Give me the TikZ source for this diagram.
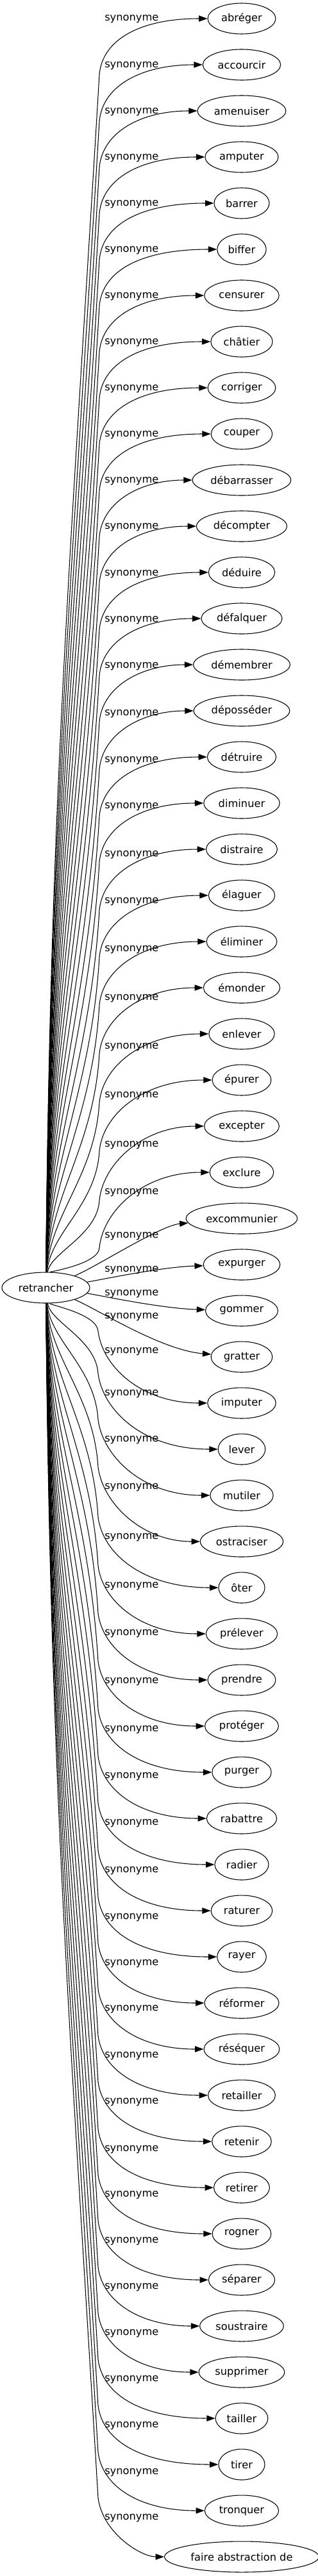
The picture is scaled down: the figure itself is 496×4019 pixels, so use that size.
\documentclass[tikz,border=0pt]{standalone}
\usepackage{fontspec}
\setmainfont{DejaVu Sans}
\usetikzlibrary{shapes.geometric,arrows.meta}

\begin{document}
\begin{tikzpicture}[
    x=0.75pt, y=-0.75pt,
    every node/.style={font=\fontsize{12.2}{14}\selectfont},
    term/.style={ellipse, draw, line width=0.8pt, inner xsep=4.2pt, minimum width=54pt, minimum height=36pt},
    rel/.style={anchor=base west, inner sep=0pt},
    arrow/.style={-{Triangle[length=10pt, width=7pt]}, line width=0.8pt}
]
\useasboundingbox (0,0) rectangle (496,4019);

% Root word
\node[term] (root) at (71.5,2009) {retrancher};

% Synonyms: name / text / shift of the edge label
\foreach \nm/\txt/\off [count=\i from 0] in {
    abreger/abréger/-1, accourcir/accourcir/0, amenuiser/amenuiser/0,
    amputer/amputer/0, barrer/barrer/0, biffer/biffer/0,
    censurer/censurer/0, chatier/châtier/0, corriger/corriger/0,
    couper/couper/0, debarrasser/débarrasser/0, decompter/décompter/0,
    deduire/déduire/1, defalquer/défalquer/1, demembrer/démembrer/1,
    deposseder/déposséder/3, detruire/détruire/4, diminuer/diminuer/4,
    distraire/distraire/7, elaguer/élaguer/8, eliminer/éliminer/11,
    emonder/émonder/15, enlever/enlever/19, epurer/épurer/23,
    excepter/excepter/28, exclure/exclure/30, excommunier/excommunier/26,
    expurger/expurger/7, gommer/gommer/-28, gratter/gratter/-64,
    imputer/imputer/-82, lever/lever/-88, mutiler/mutiler/-88,
    ostraciser/ostraciser/-86, oter/ôter/-80, prelever/prélever/-76,
    prendre/prendre/-74, proteger/protéger/-71, purger/purger/-68,
    rabattre/rabattre/-67, radier/radier/-66, raturer/raturer/-64,
    rayer/rayer/-63, reformer/réformer/-63, resequer/réséquer/-64,
    retailler/retailler/-63, retenir/retenir/-63, retirer/retirer/-61,
    rogner/rogner/-62, separer/séparer/-62, soustraire/soustraire/-62,
    supprimer/supprimer/-62, tailler/tailler/-62, tirer/tirer/-62,
    tronquer/tronquer/-61, abstraction/faire abstraction de/-62%
}{
    \pgfmathsetmacro\yT{29+72*\i}
    \pgfmathsetmacro\yL{\yT+\off}
    \node[term] (\nm) at (377,\yT) {\txt};
    \node[rel] (l\nm) at (163,{\yL+4.5}) {synonyme};
    \ifnum\i<26
        % upper edges: rise along the left, then bend right
        \pgfmathsetmacro\yK{\yL+88}
        \pgfmathsetmacro\dK{2009-\yK}
        \coordinate (k\nm) at (155,\yK);
        \draw[arrow] (root) .. controls (78,{2009-0.4*\dK}) and ({155-0.024*\dK},{\yK+0.4*\dK}) .. (k\nm)
            .. controls (160,{\yL+33}) and (220,\yT) .. (\nm);
    \else\ifnum\i<30
        % middle edges: almost straight
        \draw[arrow] (root) .. controls (150,{2009+0.3*(\yT-2009)}) and (250,{\yT+0.1*(2009-\yT)}) .. (\nm);
    \else
        % lower edges: fall along the left, then bend right
        \pgfmathsetmacro\yK{\yL-30}
        \pgfmathsetmacro\dK{\yK-2009}
        \coordinate (k\nm) at (153,\yK);
        \draw[arrow] (root) .. controls (78,{2009+0.4*\dK}) and ({153-0.024*\dK},{\yK-0.4*\dK}) .. (k\nm)
            .. controls (160,{\yL+25}) and (220,\yT) .. (\nm);
    \fi\fi
}

\end{tikzpicture}
\end{document}
